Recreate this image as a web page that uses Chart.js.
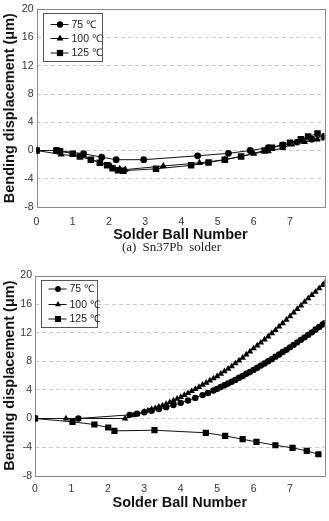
<!DOCTYPE html>
<html>
<head>
<meta charset="utf-8">
<script src="https://cdn.jsdelivr.net/npm/chart.js@4/dist/chart.umd.min.js"></script>
<style>
body{margin:0;background:#fff;width:329px;height:521px;position:relative;overflow:hidden}
.wrap{position:absolute;left:0}
#caption{position:absolute;top:239px;left:0;width:343px;text-align:center;font:13px "Liberation Serif",serif;word-spacing:3px;color:#222}
</style>
</head>
<body>
<div class="wrap" style="top:0"><canvas id="chartA" width="329" height="252"></canvas></div>
<div id="caption">(a) Sn37Pb solder</div>
<div class="wrap" style="top:262px"><canvas id="chartB" width="329" height="259"></canvas></div>
<script>
// axis settings shared by both panels
var xTicks = [0, 1, 2, 3, 4, 5, 6, 7];
var yTicks = [-8, -4, 0, 4, 8, 12, 16, 20];
var labels = ['75 ℃', '100 ℃', '125 ℃'];

// (a) Sn37Pb solder
var a75x = [0, 0.55, 1.3, 1.8, 2.2, 2.96, 4.45, 5.3, 5.9, 6.4, 6.8, 7.2, 7.6, 7.95];
var a75y = [0, 0, -0.45, -0.95, -1.3, -1.3, -0.75, -0.4, 0, 0.4, 0.8, 1.2, 1.6, 2.05];
var a100x = [0, 0.68, 1.2, 1.3, 1.75, 2.05, 2.3, 2.45, 3.5, 4.5, 5.2, 6.0, 6.4, 6.8, 7.05, 7.4, 7.75, 7.95];
var a100y = [0, -0.55, -0.85, -0.75, -1.7, -2.2, -2.6, -2.7, -2.2, -1.75, -1.3, -0.45, -0.1, 0.35, 0.85, 1.2, 1.55, 1.7];
var a125x = [0, 0.55, 0.65, 1.0, 1.2, 1.5, 1.75, 1.95, 2.1, 2.25, 2.4, 3.3, 4.27, 4.75, 5.2, 5.65, 6.3, 6.5, 6.8, 7.0, 7.3, 7.5, 7.76];
var a125y = [0, 0, -0.1, -0.45, -0.85, -1.3, -1.75, -2.1, -2.5, -2.8, -2.85, -2.6, -2.1, -1.7, -1.3, -0.85, 0, 0.4, 0.75, 1.1, 1.6, 2.0, 2.4];

// (b) second solder
var b75x = [0, 1.19, 2.6, 2.8, 3.0, 3.2, 3.4, 3.6, 3.8, 4.0, 4.2, 4.4, 4.6, 4.75, 4.9, 5.0, 5.1, 5.2, 5.3, 5.4, 5.5, 5.6, 5.7, 5.8, 5.9, 6.0, 6.1, 6.2, 6.3, 6.4, 6.5, 6.6, 6.7, 6.8, 6.9, 7.0, 7.1, 7.2, 7.3, 7.4, 7.5, 7.6, 7.7, 7.8, 7.9, 7.96];
var b75y = [0, 0, 0.51, 0.68, 0.87, 1.08, 1.32, 1.59, 1.88, 2.19, 2.52, 2.88, 3.27, 3.57, 3.92, 4.15, 4.4, 4.65, 4.9, 5.15, 5.4, 5.7, 5.95, 6.25, 6.5, 6.8, 7.1, 7.4, 7.7, 8.0, 8.3, 8.65, 8.95, 9.3, 9.6, 9.95, 10.3, 10.65, 11.0, 11.35, 11.7, 12.05, 12.45, 12.8, 13.15, 13.35];
var b100x = [0, 0.85, 2.47, 2.7, 2.8, 3.0, 3.1, 3.2, 3.3, 3.4, 3.5, 3.6, 3.7, 3.8, 3.9, 4.0, 4.1, 4.2, 4.3, 4.4, 4.5, 4.6, 4.7, 4.8, 4.9, 5.0, 5.1, 5.2, 5.3, 5.4, 5.5, 5.6, 5.7, 5.8, 5.9, 6.0, 6.1, 6.2, 6.3, 6.4, 6.5, 6.6, 6.7, 6.8, 6.9, 7.0, 7.1, 7.2, 7.3, 7.4, 7.5, 7.6, 7.7, 7.8, 7.9, 7.96];
var b100y = [0, 0, 0, 0.46, 0.6, 0.93, 1.1, 1.27, 1.44, 1.62, 1.8, 2.03, 2.27, 2.5, 2.75, 3.0, 3.27, 3.54, 3.82, 4.1, 4.4, 4.7, 5.0, 5.3, 5.6, 5.9, 6.25, 6.6, 6.95, 7.3, 7.7, 8.1, 8.5, 8.95, 9.35, 9.8, 10.2, 10.6, 11.05, 11.45, 11.9, 12.35, 12.85, 13.3, 13.8, 14.3, 14.8, 15.3, 15.8, 16.3, 16.8, 17.25, 17.7, 18.2, 18.65, 19.0];
var b125x = [0, 1.03, 1.63, 2.01, 2.18, 3.28, 4.69, 5.22, 5.7, 6.08, 6.6, 7.07, 7.46, 7.78];
var b125y = [0, -0.47, -0.84, -1.26, -1.73, -1.64, -2.0, -2.43, -2.9, -3.27, -3.74, -4.1, -4.53, -5.0];

function pts(xs, ys) {
    return xs.map(function (x, i) { return {x: x, y: ys[i]}; });
}

function ds(label, data, style, r) {
    return {
        label: label,
        data: data,
        borderColor: '#111',
        borderWidth: 1,
        backgroundColor: '#000',
        pointStyle: style,
        pointRadius: r,
        pointBorderWidth: 0,
        pointBackgroundColor: '#000',
        tension: 0
    };
}

// frame around plot area
var framePlugin = {
    id: 'frame',
    beforeDatasetsDraw: function (chart) {
        var a = chart.chartArea, c = chart.ctx;
        c.save();
        c.strokeStyle = '#8a8a8a';
        c.lineWidth = 1;
        c.strokeRect(Math.round(a.left) + 0.5, Math.round(a.top) + 0.5, Math.round(a.right - a.left), Math.round(a.bottom - a.top));
        c.restore();
    }
};

// boxed legend inside the plot
var boxLegend = {
    id: 'boxLegend',
    afterDraw: function (chart, args, o) {
        var a = chart.chartArea, c = chart.ctx;
        var bx = Math.round(a.left + o.dx) + 0.5, by = Math.round(a.top + o.dy) + 0.5;
        c.save();
        c.fillStyle = '#fff';
        c.fillRect(bx, by, o.w, o.h);
        c.strokeStyle = '#555';
        c.lineWidth = 1;
        c.strokeRect(bx, by, o.w, o.h);
        chart.data.datasets.forEach(function (d, i) {
            var y = by + o.rows[i];
            c.strokeStyle = '#111';
            c.beginPath();
            c.moveTo(bx + 7, y);
            c.lineTo(bx + 25, y);
            c.stroke();
            c.fillStyle = '#000';
            Chart.helpers.drawPoint(c, {pointStyle: d.pointStyle, radius: o.r[i], borderWidth: 0}, bx + 16.5, y);
            c.fillStyle = '#222';
            c.font = '10.5px "Liberation Sans", Arial, sans-serif';
            c.textBaseline = 'middle';
            c.fillText(d.label, bx + 28, y + 0.5);
        });
        c.restore();
    }
};

function scales(yWidth, xHeight, tickPad, titlePad) {
    return {
        x: {
            type: 'linear',
            min: 0,
            max: 7.95,
            afterBuildTicks: function (s) { s.ticks = xTicks.map(function (v) { return {value: v}; }); },
            afterFit: function (s) { s.height = xHeight; },
            grid: {display: false, drawTicks: false},
            border: {display: false},
            ticks: {padding: tickPad, color: '#333', font: {family: '"Liberation Sans", Arial, sans-serif', size: 10.5}},
            title: {display: true, text: 'Solder Ball Number', color: '#111', padding: {top: 0, bottom: titlePad},
                font: {family: '"Liberation Sans", Arial, sans-serif', size: 14.5, weight: 'bold'}}
        },
        y: {
            min: -8,
            max: 20,
            afterBuildTicks: function (s) { s.ticks = yTicks.map(function (v) { return {value: v}; }); },
            afterFit: function (s) { s.width = yWidth; },
            grid: {
                drawTicks: false,
                lineWidth: 1,
                color: function (ctx) {
                    var v = ctx.tick ? ctx.tick.value : 0;
                    return (v === -8 || v === 20) ? 'rgba(0,0,0,0)' : '#c8c8c8';
                }
            },
            border: {display: false, dash: [4, 3]},
            ticks: {padding: 3, color: '#333', font: {family: '"Liberation Sans", Arial, sans-serif', size: 10.5}},
            title: {display: true, text: 'Bending displacement (μm)', color: '#111', padding: {top: 1, bottom: 0},
                font: {family: '"Liberation Sans", Arial, sans-serif', size: 14.5, weight: 'bold'}}
        }
    };
}

new Chart(document.getElementById('chartA'), {
    type: 'line',
    data: {
        datasets: [
            ds(labels[0], pts(a75x, a75y), 'circle', 3.4),
            ds(labels[1], pts(a100x, a100y), 'triangle', 4.1),
            ds(labels[2], pts(a125x, a125y), 'rect', 4.6)
        ]
    },
    options: {
        responsive: false,
        animation: false,
        layout: {padding: {left: 0.5, right: 4, top: 8, bottom: 0}},
        scales: scales(36, 45, 9, 8),
        plugins: {
            legend: {display: false},
            tooltip: {enabled: false},
            boxLegend: {dx: 6.5, dy: 4, w: 59, h: 48, rows: [11, 25, 39.5], r: [3.2, 3.9, 4.4]}
        }
    },
    plugins: [framePlugin, boxLegend]
});

new Chart(document.getElementById('chartB'), {
    type: 'line',
    data: {
        datasets: [
            ds(labels[0], pts(b75x, b75y), 'circle', 3.2),
            ds(labels[1], pts(b100x, b100y), 'triangle', 3.8),
            ds(labels[2], pts(b125x, b125y), 'rect', 4.4)
        ]
    },
    options: {
        responsive: false,
        animation: false,
        layout: {padding: {left: 0, right: 4, top: 13.5, bottom: 0}},
        scales: scales(35, 45.3, 7, 9),
        plugins: {
            legend: {display: false},
            tooltip: {enabled: false},
            boxLegend: {dx: 5.5, dy: 4.5, w: 56, h: 47, rows: [8.5, 24, 38.5], r: [2.9, 3.4, 4.2]}
        }
    },
    plugins: [framePlugin, boxLegend]
});
</script>
</body>
</html>
